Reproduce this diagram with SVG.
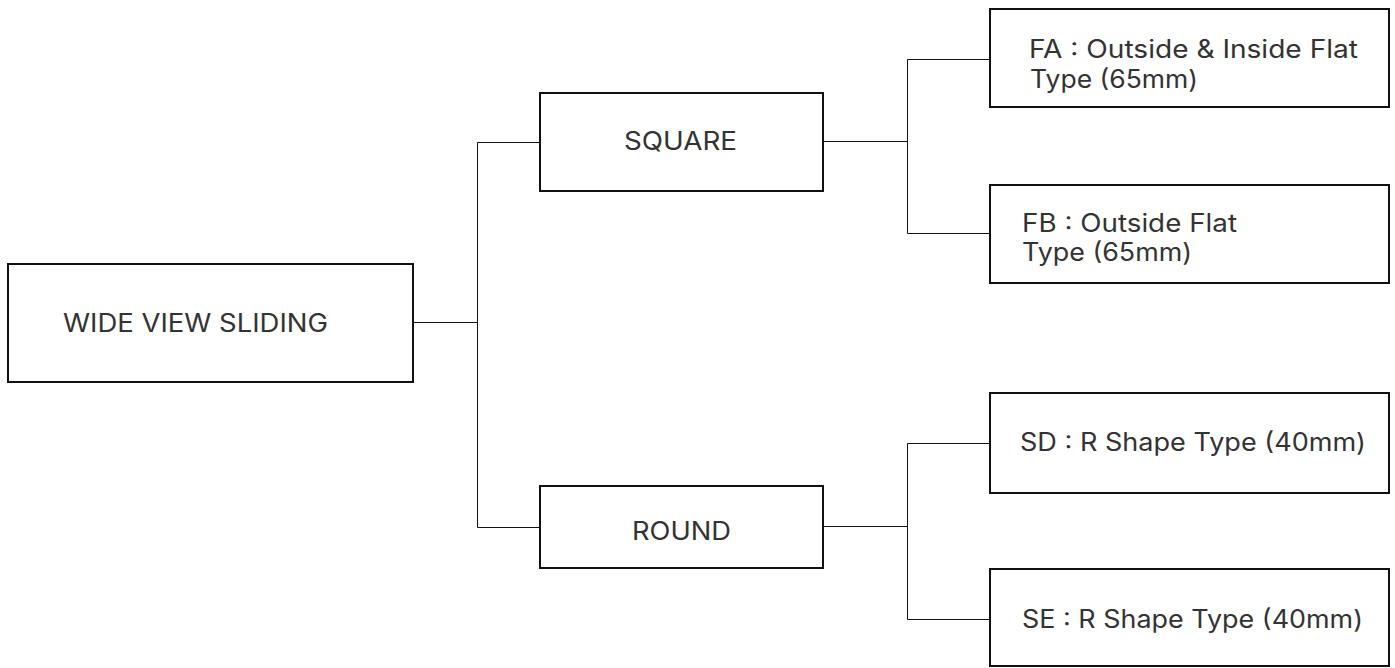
<svg xmlns="http://www.w3.org/2000/svg" width="1395" height="668" viewBox="0 0 1395 668">
<style>
.box{fill:#fff;stroke:#111;stroke-width:2}
.lbl{font-family:Inter,"Liberation Sans",sans-serif;font-size:25px;fill:#333}
.conn{fill:none;stroke:#111;stroke-width:1}
</style>
<rect width="1395" height="668" fill="#fff"/>
<g id="connectors">
<path class="conn" d="M413 322.5H477.5M477.5 142.5V527.5M477.5 142.5H540M477.5 527.5H540"/>
<path class="conn" d="M823 141.5H907.5M907.5 59.5V233.5M907.5 59.5H990M907.5 233.5H990"/>
<path class="conn" d="M823 526.5H907.5M907.5 443.5V619.5M907.5 443.5H990M907.5 619.5H990"/>
</g>
<g id="root">
<rect class="box" x="8" y="264" width="405" height="118"/>
<text class="lbl" x="63" y="332" textLength="265" lengthAdjust="spacingAndGlyphs">WIDE VIEW SLIDING</text>
</g>
<g id="square">
<rect class="box" x="540" y="93" width="283" height="98"/>
<text class="lbl" x="624" y="150" textLength="113" lengthAdjust="spacingAndGlyphs">SQUARE</text>
</g>
<g id="round">
<rect class="box" x="540" y="486" width="283" height="82"/>
<text class="lbl" x="632" y="540" textLength="99" lengthAdjust="spacingAndGlyphs">ROUND</text>
</g>
<g id="fa">
<rect class="box" x="990" y="9" width="399" height="98"/>
<text class="lbl" x="1029" y="58" textLength="329" lengthAdjust="spacingAndGlyphs">FA : Outside &amp; Inside Flat</text>
<text class="lbl" x="1030" y="88" textLength="168" lengthAdjust="spacingAndGlyphs">Type (65mm)</text>
</g>
<g id="fb">
<rect class="box" x="990" y="185" width="399" height="98"/>
<text class="lbl" x="1022" y="232" textLength="215" lengthAdjust="spacingAndGlyphs">FB : Outside Flat</text>
<text class="lbl" x="1022" y="261" textLength="170" lengthAdjust="spacingAndGlyphs">Type (65mm)</text>
</g>
<g id="sd">
<rect class="box" x="990" y="393" width="399" height="100"/>
<text class="lbl" x="1020" y="451" textLength="346" lengthAdjust="spacingAndGlyphs">SD : R Shape Type (40mm)</text>
</g>
<g id="se">
<rect class="box" x="990" y="569" width="399" height="97"/>
<text class="lbl" x="1022" y="628" textLength="341" lengthAdjust="spacingAndGlyphs">SE : R Shape Type (40mm)</text>
</g>
</svg>
